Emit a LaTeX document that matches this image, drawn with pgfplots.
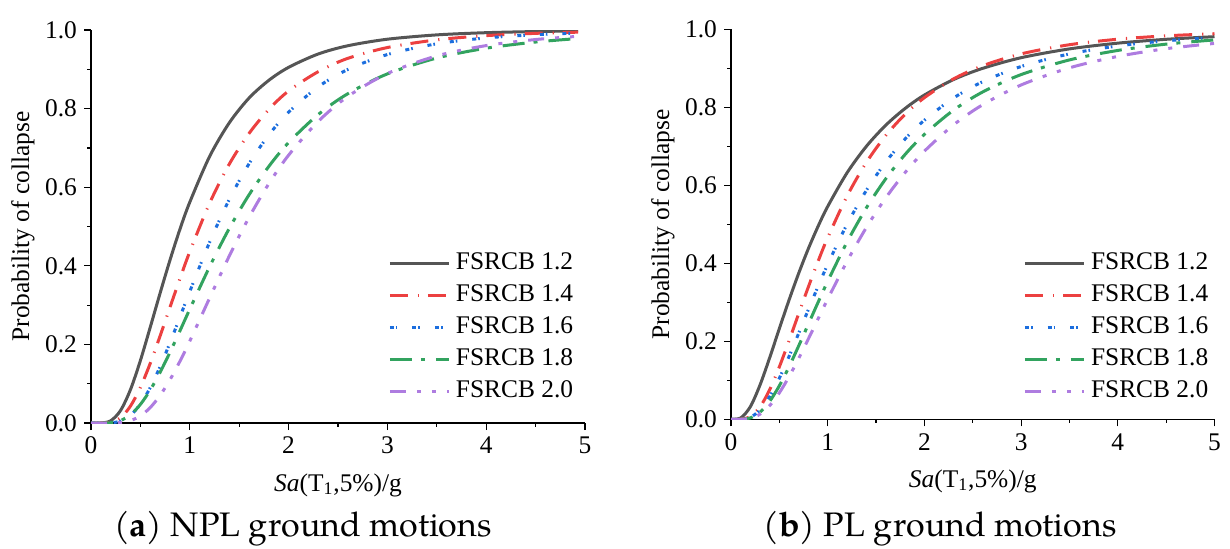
\documentclass[border=0pt]{standalone}
\usepackage{fontspec}
\setmainfont{Liberation Serif}
\newfontfamily\capfont{TeX Gyre Pagella}
\usepackage{pgfplots}
\usepackage{pgfplotstable}
\pgfplotsset{compat=1.18}

\definecolor{c12}{RGB}{85,85,85}
\definecolor{c14}{RGB}{236,64,64}
\definecolor{c16}{RGB}{28,110,222}
\definecolor{c18}{RGB}{50,163,95}
\definecolor{c20}{RGB}{174,124,224}

% x, FSRCB 1.2, 1.4, 1.6, 1.8, 2.0  (NPL)
\pgfplotstableread{
x    c12    c14    c16    c18    c20
0    0      0      0      0      0
0.1  0.0001 0      0      0      0
0.2  0.0058 0.0019 0.0005 0.0008 0.0001
0.3  0.0322 0.0138 0.0050 0.0063 0.0012
0.4  0.0853 0.0432 0.0196 0.0211 0.0061
0.5  0.159  0.0907 0.048  0.0473 0.0181
0.6  0.244  0.152  0.0903 0.0841 0.0394
0.7  0.331  0.222  0.1437 0.1293 0.0705
0.8  0.415  0.295  0.2047 0.1803 0.1103
0.9  0.493  0.367  0.2693 0.2345 0.157
1.0  0.562  0.436  0.3347 0.2897 0.2085
1.2  0.678  0.559  0.4598 0.3974 0.3177
1.4  0.764  0.659  0.569  0.4954 0.4252
1.6  0.827  0.737  0.660  0.5808 0.5234
1.8  0.872  0.798  0.733  0.653  0.609
2.0  0.905  0.845  0.791  0.7136 0.6815
2.3  0.939  0.894  0.8555 0.785  0.7675
2.6  0.960  0.928  0.8996 0.838  0.831
3.0  0.9766 0.9554 0.9376 0.8884 0.8893
3.5  0.9876 0.975  0.9649 0.9287 0.9342
4.0  0.9932 0.9857 0.9798 0.9537 0.9604
4.5  0.9961 0.9915 0.9881 0.9694 0.9758
4.93 0.9976 0.9945 0.9923 0.9783 0.9839
}\npldata

% PL ground motions
\pgfplotstableread{
x    c12    c14    c16    c18    c20
0    0      0      0      0      0
0.1  0.0035 0.0003 0.0002 0.0001 0.0001
0.2  0.0323 0.0071 0.0052 0.0037 0.0026
0.3  0.088  0.0317 0.0238 0.0181 0.0132
0.4  0.158  0.0759 0.0583 0.0461 0.0351
0.5  0.2327 0.1346 0.1055 0.0861 0.068
0.6  0.3057 0.2013 0.161  0.1347 0.1092
0.7  0.3745 0.2709 0.2206 0.1883 0.1561
0.8  0.4376 0.3395 0.2813 0.2440 0.2062
0.9  0.4946 0.4049 0.3405 0.2997 0.2573
1.0  0.5458 0.4658 0.3973 0.3538 0.3082
1.2  0.632  0.5723 0.5    0.4545 0.405
1.4  0.700  0.6588 0.587  0.5422 0.4919
1.6  0.754  0.7275 0.6595 0.6166 0.5677
1.8  0.797  0.782  0.7187 0.679  0.6326
2.0  0.8315 0.8248 0.767  0.7307 0.6876
2.3  0.871  0.8727 0.8236 0.7925 0.7546
2.6  0.8997 0.9064 0.8654 0.839  0.8062
3.0  0.9272 0.937  0.9047 0.8839 0.8573
3.5  0.9498 0.9605 0.9369 0.9215 0.9012
4.0  0.9645 0.9746 0.9573 0.9458 0.9305
4.5  0.9744 0.9833 0.9705 0.962  0.9503
5.0  0.9811 0.9887 0.9793 0.9728 0.9639
}\pldata

\tikzset{
  s12/.style={c12, line width=1.5pt, solid},
  s14/.style={c14, line width=1.5pt, dash pattern=on 9pt off 5pt on 0.6pt off 4.5pt},
  s16/.style={c16, line width=1.5pt, dash pattern=on 2pt off 1pt on 0.8pt off 7.5pt},
  s18/.style={c18, line width=1.5pt, dash pattern=on 11pt off 4.5pt on 2pt off 5.5pt},
  s20/.style={c20, line width=1.5pt, dash pattern=on 8pt off 5.5pt on 2pt off 5.5pt on 2pt off 5.5pt},
}

\pgfplotsset{
  fragax/.style={
    scale only axis,
    xmin=0, xmax=5, ymin=0, ymax=1,
    axis x line*=bottom, axis y line*=left,
    axis line style={line width=0.65pt},
    xtick={0,1,2,3,4,5}, ytick={0,0.2,0.4,0.6,0.8,1},
    minor x tick num=1, minor y tick num=1,
    tick align=outside, major tick length=3.5pt, minor tick length=1.8pt,
    tick style={black, line width=0.6pt},
    ticklabel style={font=\fontsize{12.7}{14}\selectfont},
    yticklabel style={/pgf/number format/.cd, fixed, fixed zerofill, precision=1},
    /pgf/number format/assume math mode=true,
    label style={font=\fontsize{12.7}{14}\selectfont},
    xlabel={\textit{Sa}(T\textsubscript{1},5\%)/g},
    xlabel style={at={(axis description cs:0.5,0)}, anchor=base, yshift=-34pt},
    ylabel={Probability of collapse},
    ylabel style={at={(axis description cs:0,0.5)}, anchor=base, yshift=31pt},
    legend cell align=left,
    legend style={draw=none, fill=none, inner sep=0pt, font=\fontsize{12.7}{14}\selectfont,
      row sep=3.5pt, column sep=2.5pt,
      nodes={inner sep=0.3pt, text height=9pt, text depth=3pt}},
    legend image code/.code={\draw[##1] (0pt,0pt) -- (29.5pt,0pt);},
  }
}

\begin{document}
\begin{tikzpicture}
\path[use as bounding box] (0,0) rectangle (615pt,-274pt);

\begin{axis}[fragax, at={(45.5pt,-211.5pt)}, anchor=origin,
  width=247pt, height=196.5pt,
  legend style={at={(0.601,0.44)}, anchor=north west}]
\addplot[s12, smooth] table[x=x, y=c12] {\npldata};
\addplot[s14, smooth] table[x=x, y=c14] {\npldata};
\addplot[s16, smooth] table[x=x, y=c16] {\npldata};
\addplot[s18, smooth] table[x=x, y=c18] {\npldata};
\addplot[s20, smooth] table[x=x, y=c20] {\npldata};
\legend{FSRCB 1.2, FSRCB 1.4, FSRCB 1.6, FSRCB 1.8, FSRCB 2.0}
\end{axis}

\begin{axis}[fragax, at={(365.5pt,-209.65pt)}, anchor=origin,
  width=241.75pt, height=195pt,
  legend style={at={(0.604,0.434)}, anchor=north west}]
\addplot[s12, smooth] table[x=x, y=c12] {\pldata};
\addplot[s14, smooth] table[x=x, y=c14] {\pldata};
\addplot[s16, smooth] table[x=x, y=c16] {\pldata};
\addplot[s18, smooth] table[x=x, y=c18] {\pldata};
\addplot[s20, smooth] table[x=x, y=c20] {\pldata};
\legend{FSRCB 1.2, FSRCB 1.4, FSRCB 1.6, FSRCB 1.8, FSRCB 2.0}
\end{axis}

\node[anchor=base, font=\capfont\fontsize{17}{20}\selectfont] at (151.5pt,-268pt) {(\textbf{a}) NPL ground motions};
\node[anchor=base, font=\capfont\fontsize{17}{20}\selectfont] at (470pt,-268pt) {(\textbf{b}) PL ground motions};
\end{tikzpicture}
\end{document}
